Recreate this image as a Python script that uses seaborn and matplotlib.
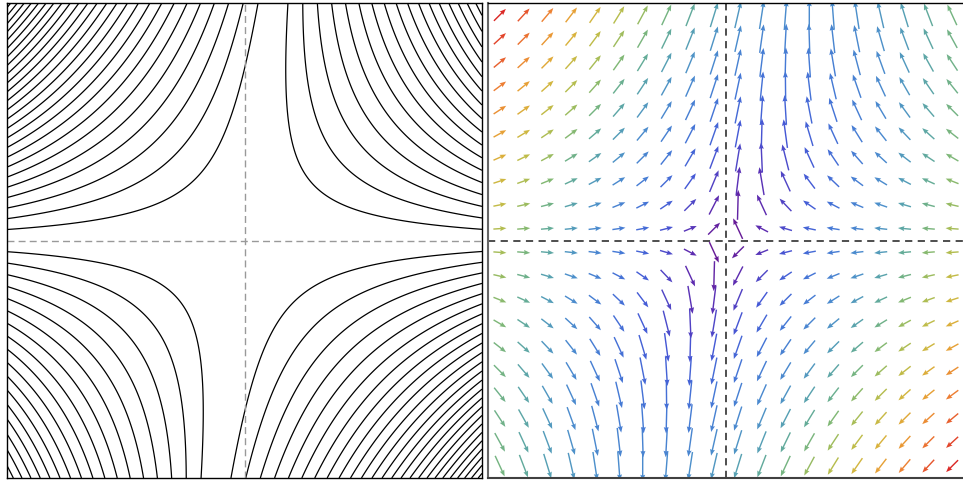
import numpy as np
import matplotlib
matplotlib.use("Agg")
import matplotlib.pyplot as plt
from matplotlib.colors import LinearSegmentedColormap, Normalize
import seaborn as sns

# ---- data ----
contraction = 0.73   # horizontal arrow component: -contraction * x
shear = 0.27         #                            + shear * y
aspect = 2.3         # stretch of horizontal axis in the arrow metric
tilt = 0.12          # slope of the vertical separatrix (x = tilt * y)
bend = 0.35          # cubic bending of the streamlines
level_step = 0.063   # spacing between streamline contour levels
n_levels = 34
n_arrows = 20
arrow_len = 0.126

sns.set_theme(style="white")
plt.rcParams["font.family"] = ["DejaVu Sans"]

cmap = LinearSegmentedColormap.from_list("field", [
    (0.00, (0.42, 0.08, 0.55)),
    (0.10, (0.36, 0.18, 0.70)),
    (0.20, (0.27, 0.35, 0.84)),
    (0.30, (0.27, 0.47, 0.84)),
    (0.42, (0.30, 0.56, 0.80)),
    (0.49, (0.34, 0.63, 0.70)),
    (0.55, (0.40, 0.68, 0.58)),
    (0.60, (0.50, 0.72, 0.46)),
    (0.65, (0.63, 0.74, 0.36)),
    (0.70, (0.74, 0.74, 0.29)),
    (0.76, (0.84, 0.71, 0.24)),
    (0.82, (0.91, 0.62, 0.21)),
    (0.88, (0.93, 0.50, 0.20)),
    (0.94, (0.90, 0.33, 0.18)),
    (1.00, (0.86, 0.16, 0.15)),
])

fig = plt.figure(figsize=(9.63, 4.81), dpi=100)
W, H = 963.0, 481.0
ax1 = fig.add_axes([7 / W, 2 / H, 475 / W, 475 / H])
ax2 = fig.add_axes([488 / W, 2 / H, 476 / W, 475 / H])

# ---- left: streamlines as contours ----
g = np.linspace(-1, 1, 801)
X, Y = np.meshgrid(g, g)
D = X - tilt * Y
psi = Y * D * (1 + bend * D ** 2)
levels = np.concatenate([-level_step * np.arange(n_levels, 0, -1),
                         level_step * np.arange(1, n_levels + 1)])
ax1.contour(X, Y, psi, levels=levels, colors="black", linewidths=0.9,
            linestyles="solid")
ax1.axhline(0, color="0.6", lw=1.0, ls=(0, (5, 3)))
ax1.axvline(0, color="0.6", lw=1.0, ls=(0, (5, 3)))

# ---- right: direction field ----
a = np.linspace(-0.95, 0.95, n_arrows)
QX, QY = np.meshgrid(a, a)
U = -contraction * QX + shear * QY
V = QY
N = np.sqrt((aspect * U) ** 2 + V ** 2)
C = N / N.max()
ax2.quiver(QX, QY, U / N, V / N, C, cmap=cmap, norm=Normalize(0, 1),
           angles="xy", scale_units="xy", scale=1 / arrow_len, pivot="middle",
           width=0.003, headwidth=3.5, headlength=4.5, headaxislength=4.0)
ax2.axhline(0, color="0.25", lw=1.3, ls=(0, (4, 3)))
ax2.axvline(0, color="0.25", lw=1.3, ls=(0, (4, 3)))

for ax in (ax1, ax2):
    ax.set_xlim(-1, 1)
    ax.set_ylim(-1, 1)
    ax.set_xticks([])
    ax.set_yticks([])
    for s in ax.spines.values():
        s.set_visible(True)
        s.set_color("black")
        s.set_linewidth(1.0)
ax2.spines["left"].set_color("0.4")
ax2.spines["left"].set_linewidth(1.5)
ax2.spines["bottom"].set_color("0.25")
ax2.spines["bottom"].set_linewidth(1.5)

fig.savefig("out.png", dpi=100)
